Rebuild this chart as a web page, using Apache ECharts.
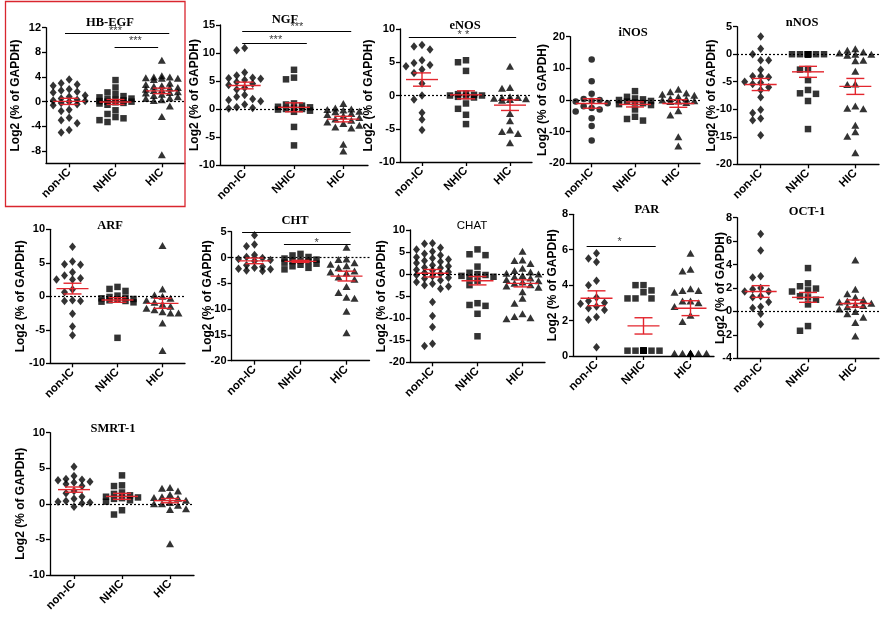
<!DOCTYPE html>
<html><head><meta charset="utf-8">
<script src="https://cdn.jsdelivr.net/npm/echarts@6/dist/echarts.min.js"></script>
<style>html,body{margin:0;padding:0;background:#fff}#c{width:888px;height:623px}</style>
</head><body><div id="c"></div><script>
// ---------- DATA ----------
const groups = ['non-IC', 'NHIC', 'HIC'];
const yTitle = 'Log2 (% of GAPDH)';

const hbegf_nonIC = [3.6, 3.0, 2.8, 2.6, 2.0, 1.8, 1.6, 1.5, 1.0, 0.8, 0.5, 0.3, 0.2, 0.1, 0.0, -0.2, -0.4, -0.6, -1.3, -1.5, -2.6, -3.0, -3.5, -4.6, -5.0];
const hbegf_NHIC = [3.5, 2.3, 1.5, 1.2, 0.9, 0.7, 0.5, 0.4, 0.3, 0.2, 0.1, 0.0, 0.0, -0.1, -0.2, -0.3, -0.5, -1.4, -2.0, -2.5, -2.7, -3.0, -3.3];
const hbegf_HIC = [6.7, 4.2, 4.0, 4.0, 3.9, 3.8, 3.8, 3.6, 3.0, 2.8, 2.6, 2.5, 2.3, 2.2, 2.0, 1.9, 1.8, 1.6, 1.5, 1.4, 1.2, 1.0, 0.8, 0.6, 0.5, 0.3, 0.2, -0.7, -2.4, -8.6];
const hbegf_mean = [0.05, -0.05, 1.75], hbegf_sem = [0.5, 0.4, 0.45];
const hbegf_ticks = [-8, -4, 0, 4, 8, 12];
const hbegf_sig = [{from: 0.91, to: 3.16, y: 11.1, tx: 2.0, ty: 11.5, text: '***'}, {from: 1.98, to: 2.92, y: 8.9, tx: 2.43, ty: 9.8, text: '***'}];

const ngf_nonIC = [10.9, 10.5, 6.5, 6.0, 5.6, 5.5, 5.4, 5.2, 4.8, 4.5, 4.3, 3.8, 3.5, 2.5, 2.2, 1.8, 1.6, 1.4, 0.8, 0.3, 0.2, 0.1];
const ngf_NHIC = [7.0, 5.6, 5.3, 1.0, 0.8, 0.6, 0.4, 0.3, 0.1, 0.0, 0.0, -0.1, -0.3, -0.5, -3.2, -6.5];
const ngf_HIC = [1.0, 0.2, 0.0, -0.1, -0.2, -0.4, -0.5, -0.8, -1.0, -1.2, -1.5, -1.8, -2.0, -2.3, -2.6, -2.9, -3.2, -3.4, -6.3, -7.5];
const ngf_mean = [4.2, 0.3, -1.8], ngf_sem = [0.6, 0.8, 0.5];
const ngf_ticks = [-10, -5, 0, 5, 10, 15];
const ngf_sig = [{from: 0.95, to: 3.16, y: 13.8, tx: 2.06, ty: 14.6, text: '***'}, {from: 0.95, to: 2.26, y: 11.8, tx: 1.63, ty: 12.3, text: '***'}];

const enos_nonIC = [7.6, 7.35, 6.9, 5.3, 4.9, 4.6, 4.4, 3.9, 3.4, 1.8, 0.0, -0.6, -2.6, -3.6, -5.2];
const enos_NHIC = [5.3, 5.0, 3.7, 0.3, 0.2, 0.1, 0.0, 0.0, -0.1, -0.2, -0.3, -1.2, -2.0, -2.9, -4.3];
const enos_HIC = [4.4, 1.2, 1.1, -0.2, -0.3, -0.3, -0.4, -0.5, -0.6, -0.7, -2.7, -3.8, -5.2, -5.4, -5.7, -7.1];
const enos_mean = [2.4, 0.1, -1.45], enos_sem = [1.0, 0.6, 0.8];
const enos_ticks = [-10, -5, 0, 5, 10];
const enos_sig = [{from: 0.7, to: 3.14, y: 8.7, tx: 1.94, ty: 9.1, text: '* *'}];

const inos_nonIC = [12.8, 5.9, 2.0, 0.3, 0.0, -0.2, -0.5, -1.0, -2.0, -2.5, -3.0, -3.6, -5.8, -8.2, -12.8];
const inos_NHIC = [2.8, 1.0, 0.5, 0.2, 0.0, -0.3, -0.5, -0.8, -1.0, -1.3, -1.6, -3.0, -5.3, -6.0, -6.5];
const inos_HIC = [3.4, 2.6, 2.2, 1.8, 1.5, 1.0, 0.5, 0.3, 0.0, -0.2, -0.3, -0.5, -0.8, -3.4, -4.7, -11.6, -14.5];
const inos_mean = [-1.1, -1.4, -1.1], inos_sem = [1.5, 0.8, 1.2];
const inos_ticks = [-20, -10, 0, 10, 20];

const nnos_nonIC = [3.2, 1.0, 0.0, -1.1, -1.1, -2.8, -4.0, -4.0, -4.2, -5.0, -5.2, -5.4, -6.0, -6.5, -7.8, -10.1, -10.7, -11.7, -12.0, -14.7];
const nnos_NHIC = [0, 0, 0, 0, 0, 0, 0, 0, 0, 0, -2.7, -2.8, -4.7, -6.5, -7.1, -7.2, -8.5, -13.6];
const nnos_HIC = [1.0, 0.7, 0.4, 0.2, 0.0, 0.0, -0.2, -1.1, -1.2, -3.1, -5.4, -5.5, -9.4, -9.8, -9.9, -12.9, -14.1, -14.9, -17.9];
const nnos_mean = [-5.5, -3.2, -5.85], nnos_sem = [1.1, 1.0, 1.45];
const nnos_ticks = [-20, -15, -10, -5, 0, 5];

const arf_nonIC = [7.4, 5.2, 4.8, 4.7, 3.6, 3.1, 2.7, 2.5, 2.5, 1.0, 0.6, -0.6, -0.7, -0.7, -2.6, -4.5, -5.8];
const arf_NHIC = [1.4, 1.1, 0.8, 0.1, -0.1, -0.2, -0.3, -0.4, -0.5, -0.6, -0.7, -0.8, -0.9, -6.2];
const arf_HIC = [7.6, 1.1, 0.2, 0.0, -0.3, -0.6, -0.9, -1.2, -1.5, -1.8, -2.0, -2.3, -2.5, -2.5, -4.0, -8.1];
const arf_mean = [1.15, -0.55, -1.05], arf_sem = [0.8, 0.35, 0.75];
const arf_ticks = [-10, -5, 0, 5, 10];

const cht_nonIC = [4.3, 2.5, 2.2, 0.5, 0.1, -0.1, -0.3, -0.5, -0.7, -1.5, -1.8, -2.0, -2.2, -2.3, -2.5, -2.6];
const cht_NHIC = [0.7, 0.4, 0.1, -0.2, -0.4, -0.6, -0.7, -0.8, -1.0, -1.2, -1.4, -1.7, -2.0, -2.3];
const cht_HIC = [2.0, -0.3, -0.4, -1.0, -1.3, -1.6, -2.0, -2.6, -2.8, -3.0, -3.8, -4.2, -5.6, -6.8, -7.7, -7.9, -10.4, -14.6];
const cht_mean = [-0.65, -0.75, -3.6], cht_sem = [0.55, 0.2, 0.95];
const cht_ticks = [-20, -15, -10, -5, 0, 5];
const cht_sig = [{from: 0.73, to: 3.09, y: 4.95, tx: 2.35, ty: 5.33, text: '**'}, {from: 1.64, to: 3.09, y: 2.6, tx: 2.35, ty: 2.85, text: '*'}];

const chat_nonIC = [7.0, 6.9, 6.0, 5.6, 5.1, 4.6, 4.3, 3.8, 3.6, 3.3, 3.0, 2.8, 2.5, 2.0, 1.8, 1.5, 1.4, 1.0, 0.8, 0.5, 0.3, 0.1, -0.2, -0.5, -0.8, -1.0, -1.4, -1.8, -2.2, -2.5, -2.8, -3.3, -6.3, -9.5, -12.0, -15.8, -16.3];
const chat_NHIC = [5.6, 4.5, 4.3, 1.7, 0.3, 0.0, -0.2, -0.4, -0.6, -1.0, -1.5, -2.5, -6.6, -7.0, -7.2, -9.0, -14.1];
const chat_HIC = [5.2, 3.2, 3.1, 2.4, 1.3, 0.8, 0.5, 0.2, 0.0, -0.3, -0.6, -0.9, -1.2, -1.5, -1.8, -2.1, -2.4, -2.7, -3.0, -4.0, -5.5, -6.6, -9.0, -9.6, -9.9, -10.1];
const chat_mean = [0.2, -1.5, -2.1], chat_sem = [0.85, 0.95, 0.8];
const chat_ticks = [-20, -15, -10, -5, 0, 5, 10];

const par_nonIC = [5.8, 5.5, 5.3, 4.25, 4.0, 3.3, 3.1, 3.0, 2.95, 2.8, 2.7, 2.6, 2.2, 2.05, 0.5];
const par_NHIC = [4.0, 4.0, 3.7, 3.6, 3.25, 3.25, 3.25, 0.3, 0.3, 0.3, 0.3, 0.3, 0.3, 0.3, 0.3, 0.3, 0.3];
const par_HIC = [5.8, 4.9, 4.8, 3.8, 3.7, 3.7, 3.6, 3.1, 3.1, 3.0, 2.8, 2.3, 1.95, 0.15, 0.15, 0.15, 0.15, 0.15, 0.15, 0.15, 0.15];
const par_mean = [3.26, 1.7, 2.7], par_sem = [0.42, 0.46, 0.42];
const par_ticks = [0, 2, 4, 6, 8];
const par_sig = [{from: 0.79, to: 2.26, y: 6.2, tx: 1.49, ty: 6.42, text: '*'}];

const oct_nonIC = [6.6, 5.2, 3.0, 2.9, 2.0, 1.9, 1.7, 1.7, 1.3, 1.2, 0.8, 0.4, 0.3, -0.2, -1.1];
const oct_NHIC = [3.7, 2.4, 2.15, 1.95, 1.8, 1.7, 1.3, 1.2, 1.0, 0.6, -1.25, -1.65];
const oct_HIC = [4.4, 1.9, 1.5, 1.2, 1.0, 0.9, 0.8, 0.7, 0.6, 0.5, 0.4, 0.2, 0.0, -0.2, -0.5, -0.95, -2.1];
const oct_mean = [1.7, 1.2, 0.68], oct_sem = [0.5, 0.42, 0.3];
const oct_ticks = [-4, -2, 0, 2, 4, 6, 8];

const smrt_nonIC = [5.2, 3.9, 3.5, 3.4, 3.3, 3.1, 3.0, 2.8, 2.5, 1.8, 1.5, 1.0, 0.7, 0.4, 0.3, 0.2, 0.1, -0.4];
const smrt_NHIC = [4.0, 2.6, 2.5, 1.6, 1.4, 1.2, 1.0, 0.9, 0.8, 0.7, 0.5, 0.3, -0.9, -1.5];
const smrt_HIC = [2.3, 2.2, 1.8, 1.3, 1.0, 0.9, 0.8, 0.5, 0.2, 0.0, 0.0, -0.2, -0.7, -0.8, -5.6];
const smrt_mean = [2.0, 1.05, 0.45], smrt_sem = [0.37, 0.42, 0.3];
const smrt_ticks = [-10, -5, 0, 5, 10];

// ---------- PANELS (data refs + layout) ----------
const panels = [
  {title: 'HB-EGF', d: [hbegf_nonIC, hbegf_NHIC, hbegf_HIC], mean: hbegf_mean, sem: hbegf_sem, ticks: hbegf_ticks, min: -10, max: 12, sig: hbegf_sig,
   L: 46, T: 27.7, W: 139, H: 135.6, tx: 105, ty: 19, gap: 24},
  {title: 'NGF', d: [ngf_nonIC, ngf_NHIC, ngf_HIC], mean: ngf_mean, sem: ngf_sem, ticks: ngf_ticks, min: -10, max: 15, sig: ngf_sig,
   L: 220, T: 25, W: 148, H: 140, tx: 280, ty: 16, gap: 19},
  {title: 'eNOS', d: [enos_nonIC, enos_NHIC, enos_HIC], mean: enos_mean, sem: enos_sem, ticks: enos_ticks, min: -10, max: 10, sig: enos_sig,
   L: 400, T: 29, W: 132, H: 133, tx: 460, ty: 22, gap: 25},
  {title: 'iNOS', d: [inos_nonIC, inos_NHIC, inos_HIC], mean: inos_mean, sem: inos_sem, ticks: inos_ticks, min: -20, max: 20, sig: [],
   L: 570, T: 36.7, W: 130, H: 126.6, tx: 628, ty: 29, gap: 21, sym0: 'circle'},
  {title: 'nNOS', d: [nnos_nonIC, nnos_NHIC, nnos_HIC], mean: nnos_mean, sem: nnos_sem, ticks: nnos_ticks, min: -20, max: 5, sig: [],
   L: 737, T: 26.7, W: 142, H: 137.6, tx: 797, ty: 19, gap: 19},
  {title: 'ARF', d: [arf_nonIC, arf_NHIC, arf_HIC], mean: arf_mean, sem: arf_sem, ticks: arf_ticks, min: -10, max: 10, sig: [],
   L: 50, T: 229.3, W: 135, H: 134, tx: 105, ty: 222, gap: 23},
  {title: 'CHT', d: [cht_nonIC, cht_NHIC, cht_HIC], mean: cht_mean, sem: cht_sem, ticks: cht_ticks, min: -20, max: 5, sig: cht_sig,
   L: 231.5, T: 231.7, W: 138, H: 129, tx: 290, ty: 217, gap: 18},
  {title: 'CHAT', d: [chat_nonIC, chat_NHIC, chat_HIC], mean: chat_mean, sem: chat_sem, ticks: chat_ticks, min: -20, max: 10, sig: [],
   L: 410, T: 230, W: 135, H: 132.3, tx: 467, ty: 223, gap: 22, sans: true},
  {title: 'PAR', d: [par_nonIC, par_NHIC, par_HIC], mean: par_mean, sem: par_sem, ticks: par_ticks, min: 0, max: 8, sig: par_sig,
   L: 573, T: 214.3, W: 141, H: 141.7, tx: 642, ty: 206, gap: 14, noZero: true},
  {title: 'OCT-1', d: [oct_nonIC, oct_NHIC, oct_HIC], mean: oct_mean, sem: oct_sem, ticks: oct_ticks, min: -4, max: 8, sig: [],
   L: 737, T: 217.7, W: 142, H: 140.6, tx: 802, ty: 208, gap: 10},
  {title: 'SMRT-1', d: [smrt_nonIC, smrt_NHIC, smrt_HIC], mean: smrt_mean, sem: smrt_sem, ticks: smrt_ticks, min: -10, max: 10, sig: [],
   L: 50, T: 432.7, W: 144, H: 142.3, tx: 108, ty: 425, gap: 23}
];

// ---------- helpers ----------
const SANS = 'Liberation Sans, Arial, sans-serif';
const SERIF = 'Liberation Serif, Times New Roman, serif';
const RED = '#e3262e';
const symbols = ['diamond', 'rect', 'triangle'];
const symSizes = {diamond: [7, 8.5], rect: 6.5, triangle: [8, 7], circle: 6.5};

function swarm(vals, min, max, h) {
  const step = 8, dmin = 6.5, placed = [];
  const slots = [0, -1, 1, -2, 2];
  return vals.map(v => {
    const py = (v - min) / (max - min) * h;
    let best = 0, bestD = -1;
    for (const k of slots) {
      const px = k * step;
      let md = Infinity;
      for (const p of placed) { const d = Math.hypot(p[0] - px, p[1] - py); if (d < md) md = d; }
      if (md >= dmin) { best = px; bestD = md; break; }
      if (md > bestD) { bestD = md; best = px; }
    }
    placed.push([best, py]);
    return best;
  });
}

const grid = [], xAxis = [], yAxis = [], series = [], title = [];
panels.forEach((p, i) => {
  grid.push({left: p.L, top: p.T, width: p.W, height: p.H, containLabel: false, outerBoundsMode: 'none'});
  title.push({text: p.title, left: p.tx, top: p.ty - 8, textAlign: 'center',
    textStyle: {fontFamily: p.sans ? SANS : SERIF, fontWeight: p.sans ? 'normal' : 'bold', fontSize: p.sans ? 11.5 : 12.5, color: '#000'}});
  xAxis.push({type: 'value', gridIndex: i, min: 0.5, max: 3.5,
    axisLine: {show: true, onZero: false, lineStyle: {color: '#000', width: 1.3}},
    axisTick: {show: true, customValues: [1, 2, 3], length: 4, lineStyle: {color: '#000', width: 1.3}},
    axisLabel: {customValues: [1, 2, 3], formatter: v => groups[Math.round(v) - 1], rotate: 45, margin: 7,
      fontFamily: SANS, fontWeight: 'bold', fontSize: 11.5, color: '#000'},
    splitLine: {show: false}});
  yAxis.push({type: 'value', gridIndex: i, min: p.min, max: p.max,
    axisLine: {show: true, onZero: false, lineStyle: {color: '#000', width: 1.3}},
    axisTick: {show: true, customValues: p.ticks, length: 4, lineStyle: {color: '#000', width: 1.3}},
    axisLabel: {customValues: p.ticks, margin: 5, fontFamily: SANS, fontWeight: 'bold', fontSize: 11, color: '#000'},
    splitLine: {show: false},
    name: yTitle, nameLocation: 'middle', nameGap: p.gap, nameMoveOverlap: false,
    nameTextStyle: {fontFamily: SANS, fontWeight: 'bold', fontSize: 12, color: '#000'}});

  p.d.forEach((vals, g) => {
    const sym = (g === 0 && p.sym0) ? p.sym0 : symbols[g];
    const offs = swarm(vals, p.min, p.max, p.H);
    const s = {type: 'scatter', xAxisIndex: i, yAxisIndex: i, symbol: sym, symbolSize: symSizes[sym],
      itemStyle: {color: '#000'}, z: 2, silent: true,
      data: vals.map((v, k) => ({value: [g + 1, v], symbolOffset: [offs[k], 0]}))};
    if (g === 0 && !p.noZero) {
      s.markLine = {silent: true, symbol: ['none', 'none'], label: {show: false},
        lineStyle: {color: '#000', type: [2, 2], width: 1.2}, data: [{yAxis: 0}], z: 1};
    }
    if (g === 1 && p.sig.length) {
      s.markLine = {silent: true, symbol: ['none', 'none'], label: {show: false},
        lineStyle: {color: '#000', type: 'solid', width: 1.2},
        data: p.sig.map(a => [{coord: [a.from, a.y]}, {coord: [a.to, a.y]}])};
    }
    series.push(s);
  });

  series.push({type: 'custom', xAxisIndex: i, yAxisIndex: i, z: 5, silent: true,
    data: p.mean.map((m, g) => [g + 1, m, p.sem[g]]),
    renderItem: (params, api) => {
      const x = api.value(0), m = api.value(1), s = api.value(2);
      const c = api.coord([x, m]), t = api.coord([x, m + s]), b = api.coord([x, m - s]);
      const st = {stroke: RED, lineWidth: 1.4};
      return {type: 'group', children: [
        {type: 'line', shape: {x1: c[0] - 16, y1: c[1], x2: c[0] + 16, y2: c[1]}, style: st},
        {type: 'line', shape: {x1: c[0], y1: t[1], x2: c[0], y2: b[1]}, style: st},
        {type: 'line', shape: {x1: c[0] - 9, y1: t[1], x2: c[0] + 9, y2: t[1]}, style: st},
        {type: 'line', shape: {x1: c[0] - 9, y1: b[1], x2: c[0] + 9, y2: b[1]}, style: st}
      ]};
    }});

  if (p.sig.length) {
    series.push({type: 'scatter', xAxisIndex: i, yAxisIndex: i, symbolSize: 0, silent: true, z: 6,
      label: {show: true, position: 'inside', formatter: '{b}', fontFamily: SANS, fontSize: 11, color: '#000'},
      data: p.sig.map(a => ({name: a.text, value: [a.tx, a.ty]}))});
  }
});

const chart = echarts.init(document.getElementById('c'), null, {renderer: 'canvas'});
chart.setOption({
  animation: false, backgroundColor: '#fff',
  title, grid, xAxis, yAxis, series,
  graphic: [{type: 'rect', shape: {x: 5.5, y: 1.5, width: 179.5, height: 205}, style: {fill: 'none', stroke: '#d9262e', lineWidth: 1.3}, z: 10}]
});
</script></body></html>
